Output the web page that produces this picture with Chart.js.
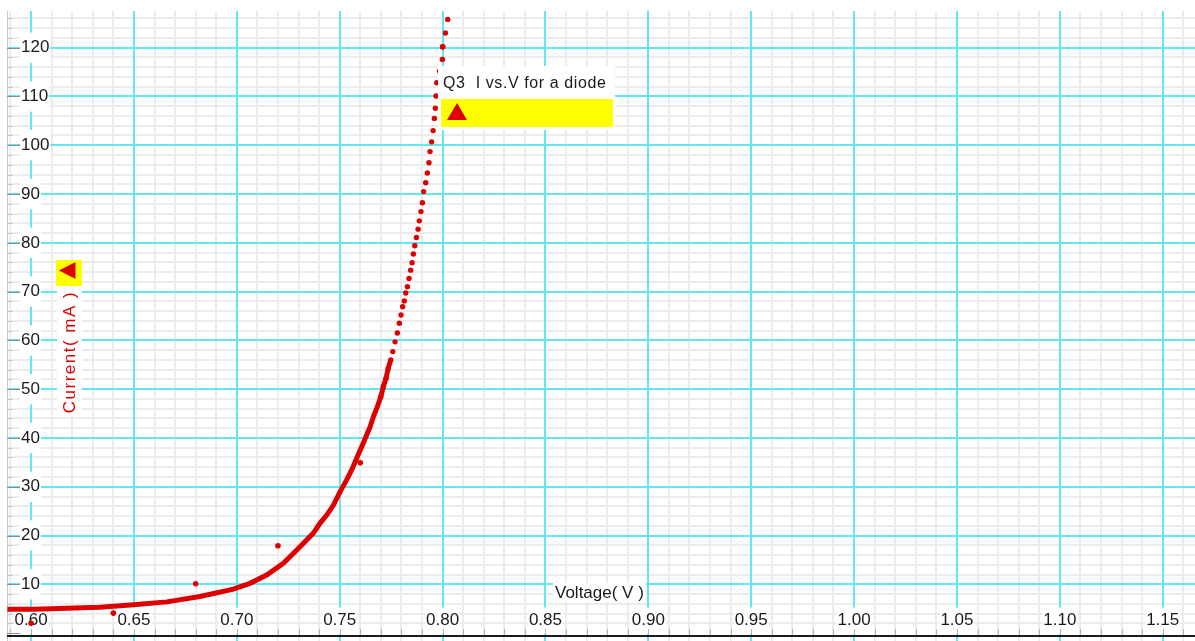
<!DOCTYPE html>
<html>
<head>
<meta charset="utf-8">
<script src="https://cdn.jsdelivr.net/npm/chart.js@4.4.1/dist/chart.umd.min.js"></script>
<style>
  html, body { margin: 0; padding: 0; background: #fff; }
  #wrap { width: 1195px; height: 641px; }
</style>
</head>
<body>
<div id="wrap"><canvas id="ivChart"></canvas></div>
<script>
// measured diode points (V, mA)
const measuredV = [0.60, 0.64, 0.68, 0.72, 0.76, 0.80];
const measuredI = [2.0, 4.1, 10.1, 17.9, 34.9, 120.2];

// fitted curve, lower part (dots merge into a solid band)
const curveV = [0.5885, 0.6011, 0.6173, 0.6335, 0.6497, 0.6660, 0.6821, 0.6983, 0.7064, 0.7145,
  0.7226, 0.7307, 0.7372, 0.7404, 0.7437, 0.7469, 0.7502, 0.7534, 0.7560, 0.7586,
  0.7607, 0.7628, 0.7648, 0.7664, 0.7683, 0.7700, 0.7712, 0.7725, 0.7736, 0.7748];
const curveI = [4.9, 4.9, 5.1, 5.3, 5.8, 6.4, 7.5, 9.0, 10.2, 11.9,
  14.3, 17.7, 20.5, 22.5, 24.2, 26.2, 29.0, 31.4, 33.6, 36.2,
  38.2, 40.3, 42.3, 44.4, 46.4, 48.5, 50.5, 52.2, 54.3, 56.0];

// fitted curve, steep part (separate dots)
const dotsV = [0.7700, 0.7712, 0.7725, 0.7736,
  0.7748, 0.7758, 0.7769, 0.7780, 0.7790, 0.7798, 0.7806, 0.7814, 0.7821, 0.7829,
  0.7837, 0.7845, 0.7852, 0.7858, 0.7865, 0.7873, 0.7881, 0.7887, 0.7895, 0.7902,
  0.7908, 0.7918, 0.7926, 0.7934, 0.7939, 0.7947, 0.7954, 0.7960, 0.7965, 0.7968,
  0.7972, 0.7985, 0.7999, 0.8001, 0.8014, 0.8025];
const dotsI = [48.5, 50.5, 52.2, 54.3,
  56.0, 57.7, 59.7, 61.5, 63.5, 65.2, 66.9, 68.1, 69.7, 71.0,
  72.7, 74.4, 75.9, 77.7, 79.4, 81.1, 82.8, 84.5, 86.4, 88.2,
  90.5, 92.3, 94.3, 96.4, 98.7, 100.7, 103.0, 105.5, 107.6, 110.1,
  112.8, 115.2, 117.6, 120.2, 123.0, 125.8];

const xTickLabels = ["0.60", "0.65", "0.70", "0.75", "0.80", "0.85", "0.90", "0.95", "1.00", "1.05", "1.10", "1.15"];
const yTickLabels = ["10", "20", "30", "40", "50", "60", "70", "80", "90", "100", "110", "120"];

const xTitle = "Voltage( V )";
const yTitle = "Current( mA )";
const legendText = "Q3  I vs.V for a diode";

const RED = "#dd0000";
const CYAN = "#62e6ef";
const GRAY = "#ececec";
const FONT = "'Liberation Sans', Arial, sans-serif";

const isMajorX = (v) => Math.abs(v * 20 - Math.round(v * 20)) < 1e-6;
const isMajorY = (v) => Math.abs(v / 10 - Math.round(v / 10)) < 1e-6;
const xLabelFor = (v) => xTickLabels.find((s) => Math.abs(Number(s) - v) < 1e-6) || "";
const yLabelFor = (v) => yTickLabels.find((s) => Math.abs(Number(s) - v) < 1e-6) || "";

const toPoints = (xs, ys) => xs.map((v, i) => ({ x: v, y: ys[i] }));

// grid: all light minor lines first, then the cyan major lines on top
const gridPlugin = {
  id: "gridPlugin",
  beforeDraw(chart) {
    const { ctx, chartArea: a, scales: { x, y } } = chart;
    ctx.save();
    ctx.lineWidth = 2;
    const pass = (major) => {
      ctx.strokeStyle = major ? CYAN : GRAY;
      x.ticks.forEach((t) => {
        if (isMajorX(t.value) !== major) return;
        const px = Math.round(x.getPixelForValue(t.value));
        ctx.beginPath(); ctx.moveTo(px, a.top); ctx.lineTo(px, a.bottom); ctx.stroke();
      });
      y.ticks.forEach((t) => {
        // the zero line sits under the black x axis
        if (t.value === 0 || isMajorY(t.value) !== major) return;
        const py = Math.round(y.getPixelForValue(t.value));
        ctx.beginPath(); ctx.moveTo(a.left, py); ctx.lineTo(a.right, py); ctx.stroke();
      });
    };
    pass(false);
    pass(true);
    ctx.restore();
  }
};

// extra drawing: tick marks, axis line, titles, legend and marker boxes
const decor = {
  id: "decor",
  beforeDatasetsDraw(chart) {
    const { ctx, chartArea, scales: { x, y } } = chart;
    ctx.save();
    ctx.lineWidth = 1;
    y.ticks.forEach((t) => {
      const py = Math.round(y.getPixelForValue(t.value)) + 0.5;
      const major = isMajorY(t.value);
      ctx.strokeStyle = major ? "#8c8c8c" : "#c8c8c8";
      ctx.beginPath();
      ctx.moveTo(chartArea.left, py);
      ctx.lineTo(chartArea.left + (major ? 13 : 6), py);
      ctx.stroke();
    });
    const axisY = 636;
    x.ticks.forEach((t) => {
      const px = Math.round(x.getPixelForValue(t.value)) + 0.5;
      ctx.strokeStyle = "#b4b4b4";
      ctx.beginPath();
      ctx.moveTo(px, axisY);
      ctx.lineTo(px, axisY - 7);
      ctx.stroke();
    });
    ctx.strokeStyle = "#1a1a1a";
    ctx.lineWidth = 2;
    ctx.beginPath();
    ctx.moveTo(chartArea.left, axisY);
    ctx.lineTo(chartArea.right, axisY);
    ctx.stroke();

    // x title
    ctx.font = "17px " + FONT;
    ctx.textBaseline = "middle";
    ctx.textAlign = "left";
    const tw = ctx.measureText(xTitle).width;
    ctx.fillStyle = "#fff";
    ctx.fillRect(553, 583, tw + 4, 19);
    ctx.fillStyle = "#1a1a1a";
    ctx.fillText(xTitle, 555, 593);

    // y title (rotated)
    ctx.save();
    ctx.translate(69, 352);
    ctx.rotate(-Math.PI / 2);
    ctx.letterSpacing = "1.5px";
    ctx.font = "17px " + FONT;
    const yw = ctx.measureText(yTitle).width;
    ctx.fillStyle = "#fff";
    ctx.fillRect(-yw / 2 - 3, -12, yw + 6, 25);
    ctx.fillStyle = RED;
    ctx.textAlign = "center";
    ctx.fillText(yTitle, 0, 1);
    ctx.restore();
    ctx.restore();
  },
  afterDatasetsDraw(chart) {
    const { ctx } = chart;
    ctx.save();
    // small yellow marker next to y title
    ctx.fillStyle = "#ffff00";
    ctx.fillRect(56, 260, 26, 26);
    ctx.fillStyle = RED;
    ctx.beginPath();
    ctx.moveTo(59, 270.5);
    ctx.lineTo(75.5, 262);
    ctx.lineTo(75.5, 279);
    ctx.closePath();
    ctx.fill();

    // legend box
    ctx.fillStyle = "#fff";
    ctx.fillRect(438, 66, 177, 64);
    ctx.fillStyle = "#ffff00";
    ctx.fillRect(441, 99, 172, 28);
    ctx.fillStyle = RED;
    ctx.beginPath();
    ctx.moveTo(447, 120);
    ctx.lineTo(467, 120);
    ctx.lineTo(457, 103);
    ctx.closePath();
    ctx.fill();
    ctx.fillStyle = "#1a1a1a";
    ctx.font = "16px " + FONT;
    ctx.letterSpacing = "0.6px";
    ctx.textBaseline = "middle";
    ctx.textAlign = "left";
    ctx.fillText(legendText, 443, 84);
    ctx.restore();
  }
};

new Chart(document.getElementById("ivChart"), {
  type: "scatter",
  data: {
    datasets: [
      {
        label: "fit",
        data: toPoints(curveV, curveI),
        showLine: true,
        borderColor: RED,
        borderWidth: 5,
        pointRadius: 0,
        tension: 0
      },
      {
        label: "fit dots",
        data: toPoints(dotsV, dotsI),
        showLine: false,
        pointRadius: 2.7,
        pointBorderWidth: 0,
        pointBackgroundColor: RED
      },
      {
        label: "measured",
        data: toPoints(measuredV, measuredI),
        showLine: false,
        pointRadius: 2.8,
        pointBorderWidth: 0,
        pointBackgroundColor: RED
      }
    ]
  },
  options: {
    responsive: true,
    maintainAspectRatio: false,
    animation: false,
    devicePixelRatio: 1,
    layout: { autoPadding: false, padding: { top: 11, left: 0, right: 0, bottom: 0 } },
    plugins: { legend: { display: false }, tooltip: { enabled: false } },
    scales: {
      x: {
        type: "linear",
        position: "bottom",
        min: 0.5883,
        max: 1.1657,
        border: { display: false },
        grid: { display: false, drawTicks: false },
        ticks: {
          stepSize: 0.01,
          includeBounds: false,
          autoSkip: false,
          maxRotation: 0,
          mirror: true,
          padding: 10,
          color: "#1a1a1a",
          font: { family: FONT, size: 17 },
          showLabelBackdrop: (c) => !!(c.tick && xLabelFor(c.tick.value)),
          backdropColor: "#ffffff",
          backdropPadding: { left: 1, right: 1, top: 3, bottom: 3 },
          callback: (v) => xLabelFor(v)
        },
        afterFit: (s) => { s.height = 0; s.paddingLeft = 0; s.paddingRight = 0; }
      },
      y: {
        type: "linear",
        position: "left",
        min: -1.62,
        max: 127.52,
        border: { display: true, color: "#c8c8c8", width: 1 },
        grid: { display: false, drawTicks: false },
        ticks: {
          stepSize: 2,
          includeBounds: false,
          autoSkip: false,
          mirror: true,
          padding: 14,
          color: "#1a1a1a",
          font: { family: FONT, size: 17 },
          showLabelBackdrop: (c) => !!(c.tick && yLabelFor(c.tick.value)),
          backdropColor: "#ffffff",
          backdropPadding: { left: 1, right: 1, top: 5, bottom: 5 },
          callback: (v) => yLabelFor(v)
        },
        afterFit: (s) => { s.width = 7; s.paddingTop = 0; s.paddingBottom = 0; }
      }
    }
  },
  plugins: [gridPlugin, decor]
});
</script>
</body>
</html>
